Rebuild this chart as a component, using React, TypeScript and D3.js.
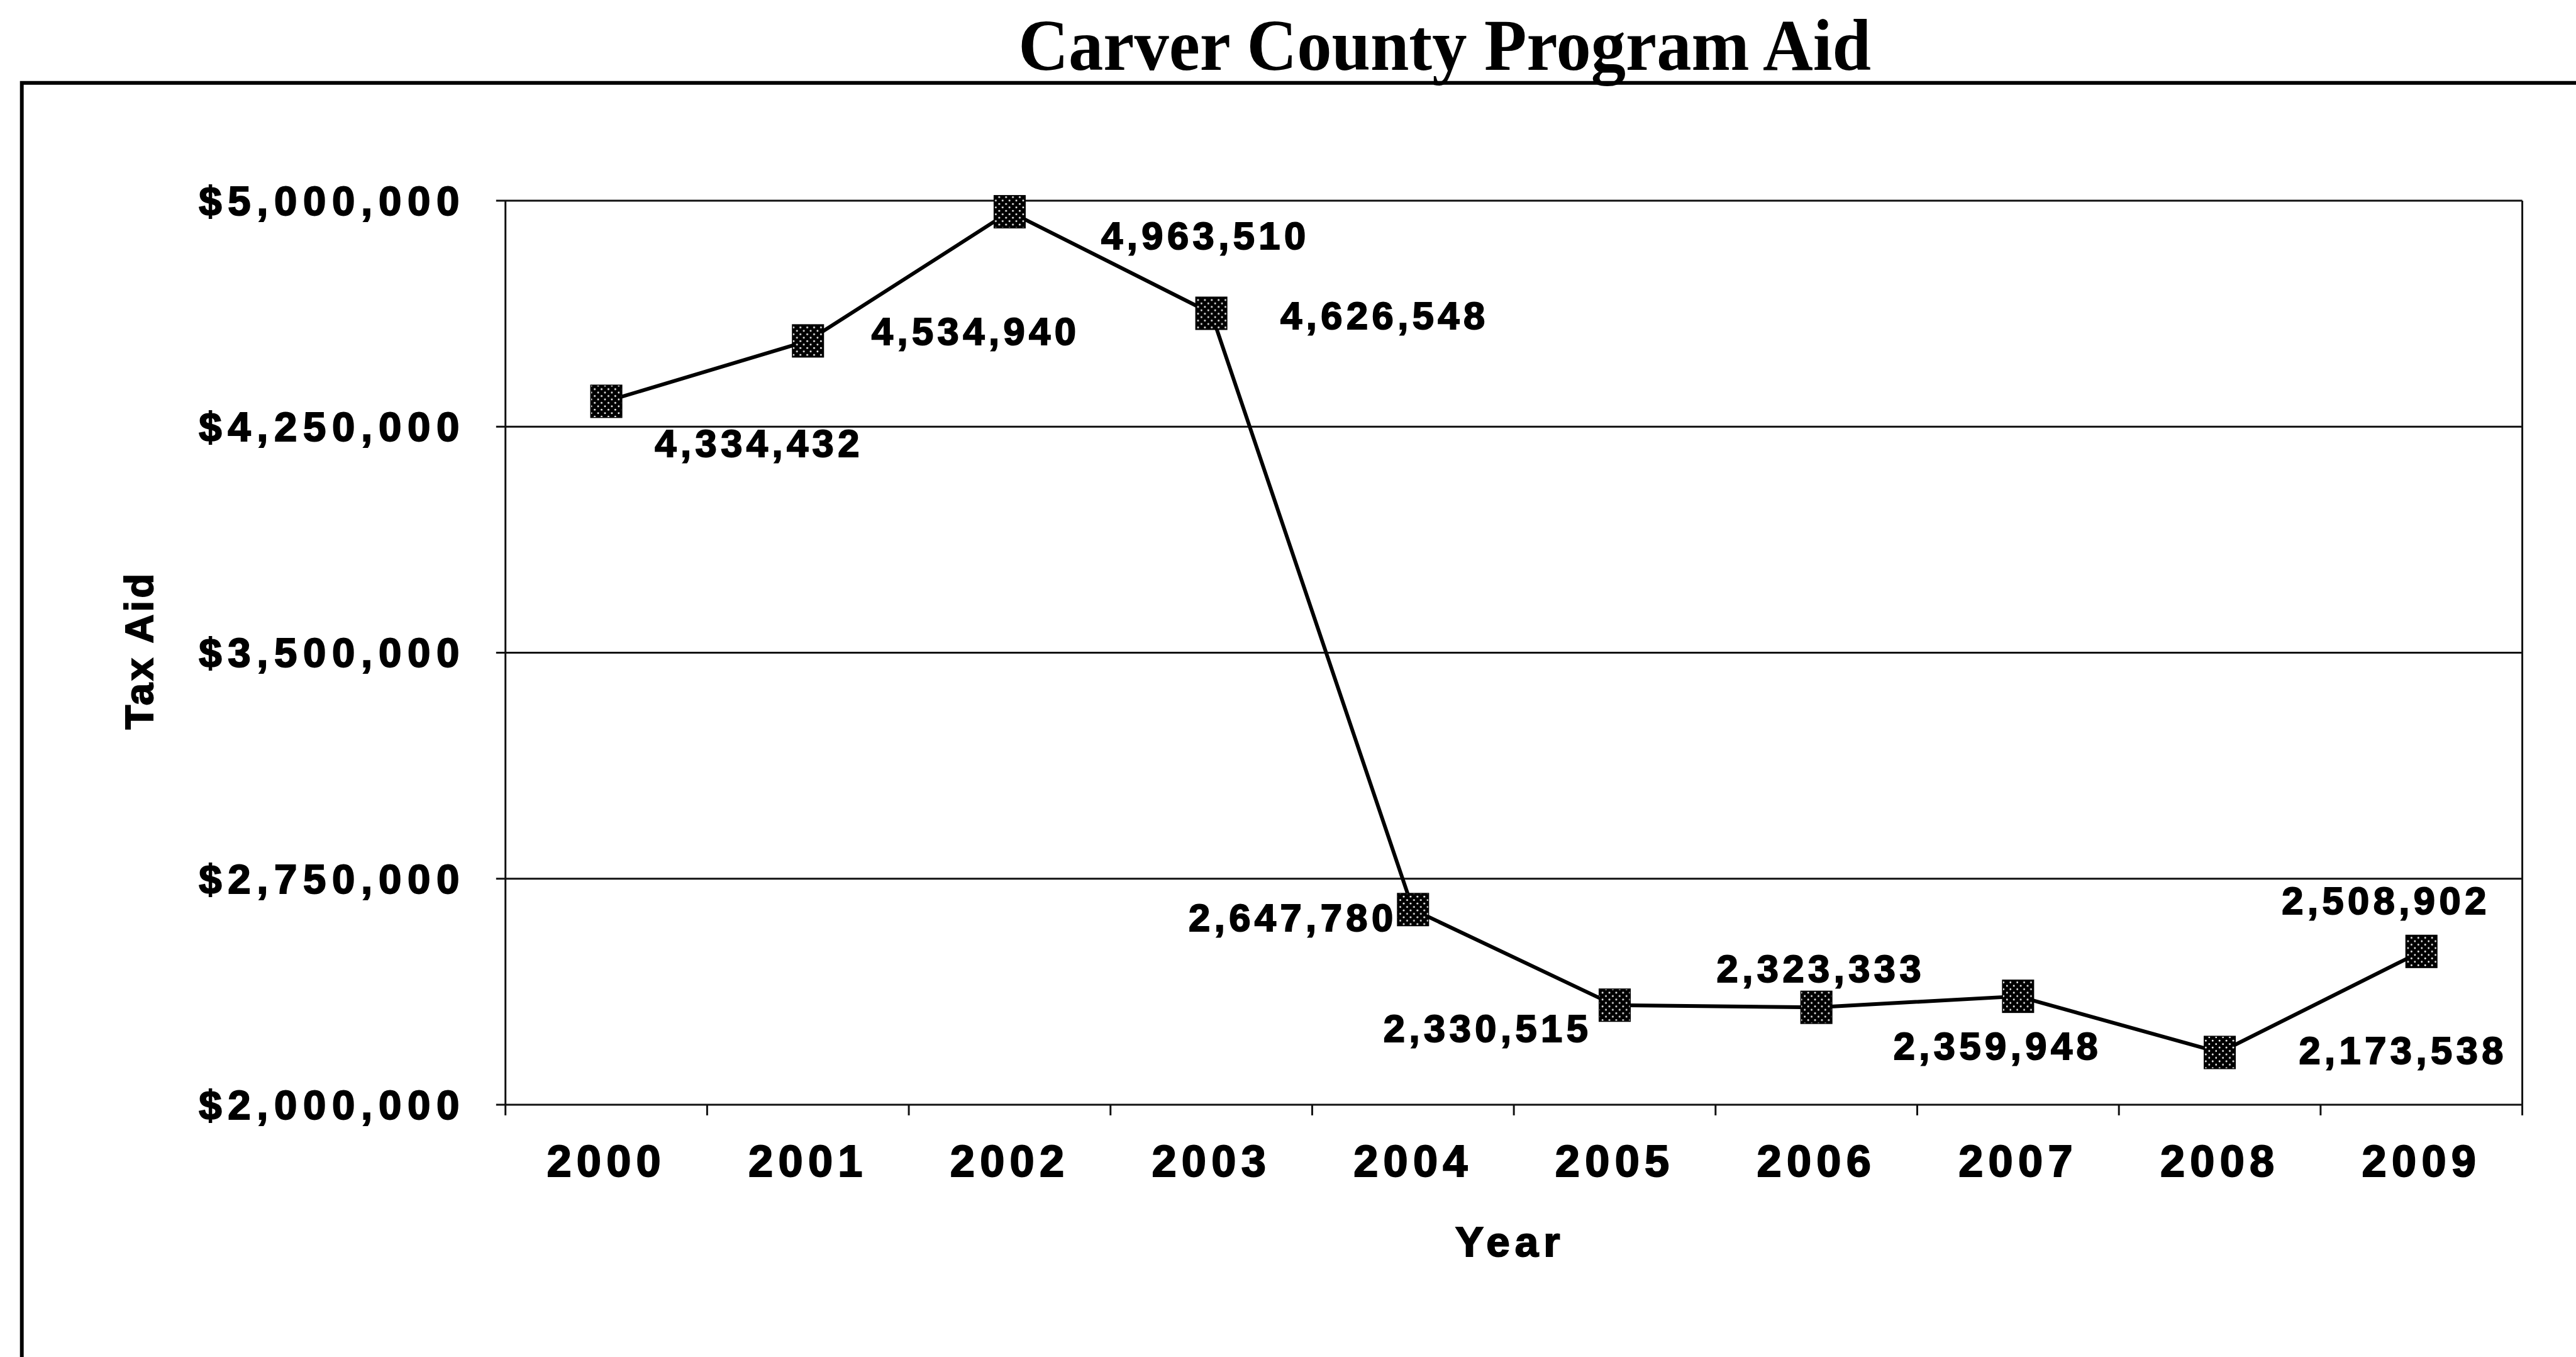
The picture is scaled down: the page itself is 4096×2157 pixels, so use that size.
import React from "react";
import * as d3 from "d3";

// chart data
const years = ["2000", "2001", "2002", "2003", "2004", "2005", "2006", "2007", "2008", "2009"];
const aid = [4334432, 4534940, 4963510, 4626548, 2647780, 2330515, 2323333, 2359948, 2173538, 2508902];
const yTicks = [2000000, 2750000, 3500000, 4250000, 5000000];
const title = "Carver County Program Aid";
const xTitle = "Year";
const yTitle = "Tax Aid";

// where each value label sits relative to its marker (centre of text)
const labelOffsets = [
    [242, 67], [266, -16], [311, 38], [275, 3], [-196, 13],
    [-207, 37], [4, -63], [-36, 79], [291, -4], [-60, -82],
];

const W = 4131;
const H = 2175;
const S = 0.991;
const margin = { top: 322, right: 84, bottom: 403, left: 811 };
const sans = "'Liberation Sans', Arial, sans-serif";

const App = () => {
    const x = d3.scaleBand()
        .domain(years)
        .range([margin.left, W - margin.right])
        .padding(0);

    const y = d3.scaleLinear()
        .domain([2000000, 5000000])
        .range([H - margin.bottom, margin.top]);

    const fmtTick = d3.format("$,");
    const fmtLabel = d3.format(",");

    const cx = (i: number) => (x(years[i]) as number) + x.bandwidth() / 2;

    const line = d3.line<number>()
        .x((_, i) => cx(i))
        .y(d => y(d));

    const plotLeft = margin.left;
    const plotRight = W - margin.right;
    const plotTop = margin.top;
    const plotBottom = H - margin.bottom;
    const boundaries = years.map(yr => x(yr) as number).concat([plotRight]);

    // scanned text looks heavier than plain bold
    const heavy = { stroke: "#000", strokeWidth: 2 };

    return (
        <svg width={4096} height={2157}
            style={{ position: "fixed", left: 0, top: 0, background: "#fff" }}>
            <defs>
                <pattern id="dots" width="11" height="11" patternUnits="userSpaceOnUse">
                    <rect width="11" height="11" fill="#000" />
                    <circle cx="2.75" cy="2.75" r="1.4" fill="#fff" />
                    <circle cx="8.25" cy="8.25" r="1.4" fill="#fff" />
                </pattern>
            </defs>
            <g transform={`scale(${S})`}>
                <rect x={0} y={0} width={W} height={H} fill="#fff" />

                {/* outer frame, only top and left visible in the scan */}
                <path d={`M35,${H + 10} L35,133 L${W + 10},133`} fill="none" stroke="#000" strokeWidth={6} />

                <text x={2318} y={112} textAnchor="middle" textLength={1368} lengthAdjust="spacingAndGlyphs"
                    fontFamily="'Liberation Serif', 'Times New Roman', serif" fontWeight="bold" fontSize={118}>
                    {title}
                </text>

                {/* gridlines */}
                {yTicks.map(t => (
                    <line key={t} x1={plotLeft - 15} x2={plotRight} y1={y(t)} y2={y(t)} stroke="#111" strokeWidth={3} />
                ))}
                {/* plot border sides */}
                <line x1={plotLeft} x2={plotLeft} y1={plotTop} y2={plotBottom} stroke="#111" strokeWidth={3} />
                <line x1={plotRight} x2={plotRight} y1={plotTop} y2={plotBottom} stroke="#111" strokeWidth={3} />

                {/* x ticks */}
                {boundaries.map((b, i) => (
                    <line key={i} x1={b} x2={b} y1={plotBottom} y2={plotBottom + 17} stroke="#111" strokeWidth={3} />
                ))}

                {/* y tick labels */}
                {yTicks.map(t => (
                    <text key={t} x={737} y={y(t) + 23} textAnchor="end" textLength={418} lengthAdjust="spacing"
                        fontFamily={sans} fontWeight="bold" fontSize={66} {...heavy}>
                        {fmtTick(t)}
                    </text>
                ))}

                {/* x tick labels */}
                {years.map((yr, i) => (
                    <text key={yr} x={cx(i) - 4} y={1887} textAnchor="middle" textLength={183} lengthAdjust="spacing"
                        fontFamily={sans} fontWeight="bold" fontSize={71} {...heavy}>
                        {yr}
                    </text>
                ))}

                <text x={2419} y={2015} textAnchor="middle" textLength={168} lengthAdjust="spacing"
                    fontFamily={sans} fontWeight="bold" fontSize={68} {...heavy}>
                    {xTitle}
                </text>

                <text transform="translate(245,1045) rotate(-90)" textAnchor="middle" textLength={250} lengthAdjust="spacing"
                    fontFamily={sans} fontWeight="bold" fontSize={64} {...heavy}>
                    {yTitle}
                </text>

                {/* series */}
                <path d={line(aid) as string} fill="none" stroke="#000" strokeWidth={6} strokeLinejoin="round" />
                {aid.map((v, i) => (
                    <rect key={i} x={cx(i) - 25} y={y(v) - 26} width={50} height={52}
                        fill="url(#dots)" stroke="#000" strokeWidth={1.5} />
                ))}

                {/* value labels */}
                {aid.map((v, i) => (
                    <text key={i} x={cx(i) + labelOffsets[i][0]} y={y(v) + labelOffsets[i][1] + 22}
                        textAnchor="middle" textLength={328} lengthAdjust="spacing"
                        fontFamily={sans} fontWeight="bold" fontSize={62} {...heavy}>
                        {fmtLabel(v)}
                    </text>
                ))}
            </g>
        </svg>
    );
};

export default App;
